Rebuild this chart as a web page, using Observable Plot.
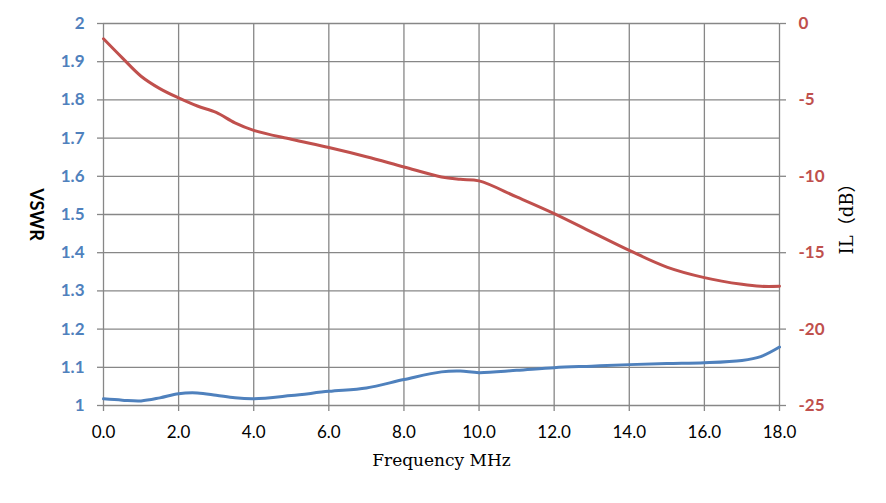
<!DOCTYPE html>
<html>
<head>
<meta charset="utf-8">
<script src="https://cdn.jsdelivr.net/npm/d3@7"></script>
<script src="https://cdn.jsdelivr.net/npm/@observablehq/plot@0.6"></script>
<style>
  html, body { margin: 0; padding: 0; background: #fff; }
</style>
</head>
<body>
<div id="chart"></div>
<script>
// Frequency (MHz) sample points
const freq = [0, 0.5, 1, 1.5, 2, 2.5, 3, 3.5, 4, 5, 6, 7, 8, 9, 9.5, 10, 11, 12, 13, 14, 15, 16, 17, 17.5, 18];
// VSWR (left axis)
const vswr = [1.0175, 1.014, 1.012, 1.02, 1.031, 1.033, 1.027, 1.02, 1.0175, 1.026, 1.037, 1.046, 1.068, 1.088, 1.09, 1.086, 1.092, 1.099, 1.103, 1.107, 1.11, 1.112, 1.118, 1.128, 1.153];
// Insertion loss IL in dB (right axis)
const il = [-1.0, -2.25, -3.45, -4.26, -4.87, -5.4, -5.82, -6.5, -6.99, -7.58, -8.12, -8.72, -9.39, -10.04, -10.2, -10.3, -11.35, -12.44, -13.65, -14.85, -15.94, -16.63, -17.07, -17.2, -17.2];

const xTicks = [0, 2, 4, 6, 8, 10, 12, 14, 16, 18];
const vswrTicks = [1, 1.1, 1.2, 1.3, 1.4, 1.5, 1.6, 1.7, 1.8, 1.9, 2];
const ilTicks = [0, -5, -10, -15, -20, -25];

// map dB (0..-25) onto VSWR scale (2..1)
const dbToV = d => 2 + d / 25;
const vToDb = v => Math.round((v - 2) * 25);

const vswrData = freq.map((f, i) => ({f, v: vswr[i]}));
const ilData = freq.map((f, i) => ({f, v: dbToV(il[i])}));

const BLUE = "#4F81BD", RED = "#C0504D", GRID = "#878787";
const sans = "Lato, 'Open Sans', sans-serif";
const serif = "'DejaVu Serif', 'Liberation Serif', 'Noto Sans CJK SC', serif";

const chart = Plot.plot({
  width: 886,
  height: 503,
  marginLeft: 103,
  marginRight: 107,
  marginTop: 23,
  marginBottom: 98,
  style: {background: "#fff", overflow: "visible"},
  x: {domain: [0, 18], axis: null},
  y: {domain: [1, 2], axis: null},
  marks: [
    Plot.gridX(xTicks, {stroke: GRID, strokeOpacity: 1, strokeWidth: 1.3}),
    Plot.gridY(vswrTicks, {stroke: GRID, strokeOpacity: 1, strokeWidth: 1.3}),
    Plot.axisX({ticks: xTicks, tickFormat: d => d.toFixed(1), tickSize: 6, tickPadding: 14,
      stroke: GRID, strokeWidth: 1.3, fill: "#000", fontSize: 17, fontFamily: sans, label: null}),
    Plot.axisY({anchor: "left", ticks: vswrTicks, tickFormat: d => String(+d.toFixed(1)), tickSize: 6, tickPadding: 13,
      stroke: GRID, strokeWidth: 1.3, fill: BLUE, fontSize: 17, fontWeight: "bold", fontFamily: sans, label: null}),
    Plot.axisY({anchor: "right", ticks: ilTicks.map(dbToV), tickFormat: v => String(vToDb(v)), tickSize: 6, tickPadding: 13,
      stroke: GRID, strokeWidth: 1.3, fill: RED, fontSize: 17, fontWeight: "bold", fontFamily: sans, label: null}),
    Plot.line(ilData, {x: "f", y: "v", stroke: RED, strokeWidth: 3, curve: "catmull-rom"}),
    Plot.line(vswrData, {x: "f", y: "v", stroke: BLUE, strokeWidth: 3, curve: "catmull-rom"}),
    Plot.text(["VSWR"], {frameAnchor: "left", textAnchor: "middle", dx: -68, rotate: 90, fontSize: 18, fontWeight: "bold",
      fontFamily: sans, fill: "#000"}),
    Plot.text(["IL（dB）"], {frameAnchor: "right", textAnchor: "middle", dx: 68, rotate: -90, fontSize: 18,
      fontFamily: serif, fill: "#000"}),
    Plot.text(["Frequency MHz"], {frameAnchor: "bottom", dy: 60, fontSize: 17,
      fontFamily: serif, fill: "#000"})
  ]
});
document.getElementById("chart").appendChild(chart);
</script>
</body>
</html>
